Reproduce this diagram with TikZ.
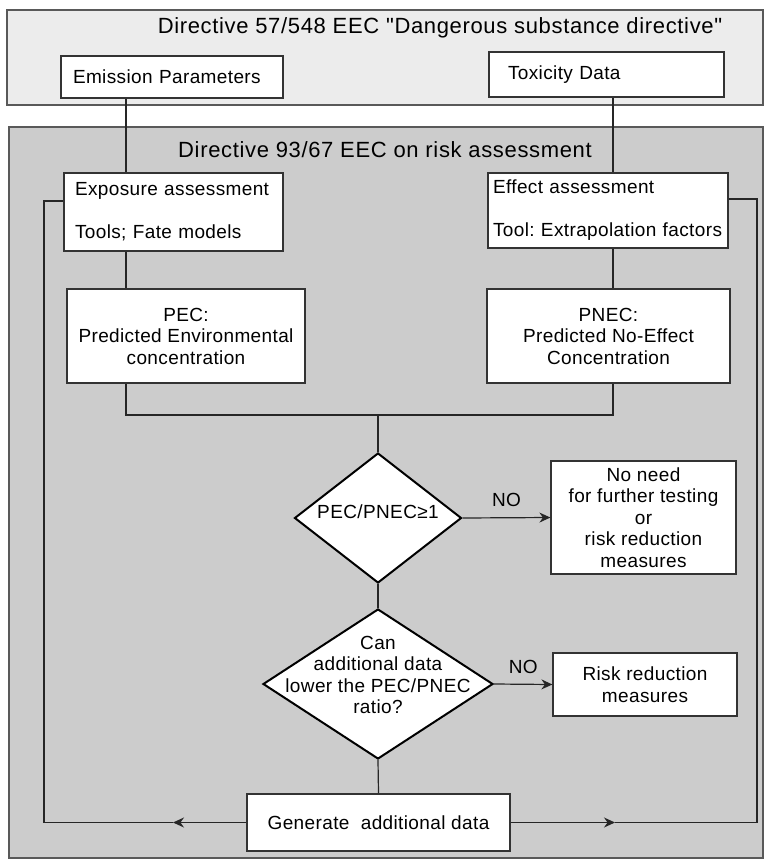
\documentclass[tikz,border=0pt]{standalone}
\usepackage{fontspec}
\setmainfont{Liberation Sans}[Ligatures=TeXOff, LetterSpace=2]
\usetikzlibrary{arrows.meta, positioning, shapes.geometric}
\definecolor{bandGray}{HTML}{ECECEC}
\definecolor{panelGray}{HTML}{CCCCCC}
\frenchspacing

\begin{document}
\begin{tikzpicture}[x=1pt, y=-1pt,
    box/.style={rectangle, draw=black!80, fill=white, line width=1.2pt, inner sep=0pt,
                font=\fontsize{19}{21.5}\selectfont, align=center},
    decision/.style={diamond, draw=black, fill=white, line width=2pt, inner sep=0pt},
    panel/.style={rectangle, draw=black!65, line width=1.2pt, inner sep=0pt},
    lbl/.style={font=\fontsize{19}{21.5}\selectfont, align=center, inner sep=0pt},
    heading/.style={font=\fontsize{22}{24}\selectfont\addfontfeatures{LetterSpace=3}, inner sep=0pt},
    link/.style={draw=black!85, line width=1.2pt},
    arr/.style={link, -{Stealth[length=11pt, width=10pt]}},
  ]
    \useasboundingbox (0,0) rectangle (766,860);

    % directive panels
    \node[panel, fill=bandGray, minimum width=756pt, minimum height=95pt] (dir57) at (385,57.5) {};
    \node[panel, fill=panelGray, minimum width=754pt, minimum height=731pt] (dir93) at (386,492.5) {};
    \node[heading] (dir57title) at (440,28)
      {Directive 57/548 EEC "Dangerous substance directive"};
    \node[heading] (dir93title) at (385,150)
      {Directive 93/67 EEC on risk assessment};

    % input and assessment boxes
    \node[box, minimum width=222pt, minimum height=42pt, text width=198pt, align=left] (emis) at (172,77)
      {Emission Parameters};
    \node[box, minimum width=235pt, minimum height=45pt, text width=197pt, align=left] (tox) at (606.5,74.5)
      {Toxicity Data};
    \node[box, minimum width=219pt, minimum height=78pt, text width=197pt, align=left] (expo) at (173.5,212)
      {Exposure assessment\\[21.5pt]Tools; Fate models};
    \node[box, minimum width=240pt, minimum height=75pt, text width=230pt, align=left] (effe) at (608,210.5)
      {Effect assessment\\[21.5pt]Tool: Extrapolation factors};
    \node[box, minimum width=238pt, minimum height=94pt] (pec) at (186,336)
      {PEC:\\Predicted Environmental\\concentration};
    \node[box, minimum width=243pt, minimum height=94pt] (pnec) at (608.5,336)
      {PNEC:\\Predicted No-Effect\\Concentration};

    % decisions
    \node[decision, minimum width=167pt, minimum height=130pt] (dec1) at (378,518) {};
    \node[lbl] (dec1txt) at (378,512) {PEC/PNEC≥1};
    \node[decision, minimum width=230pt, minimum height=150pt] (dec2) at (378,684) {};
    \node[lbl] (dec2txt) at (378,675) {Can\\additional data\\lower the PEC/PNEC\\ratio?};

    \node[box, minimum width=185pt, minimum height=113pt] (nn) at (643.5,517.5)
      {No need\\for further testing\\or\\risk reduction\\measures};
    \node[box, minimum width=184pt, minimum height=63pt] (rr) at (645,684.5)
      {Risk reduction\\measures};
    \node[box, minimum width=263pt, minimum height=57pt] (gen) at (378.5,822.5)
      {Generate~ additional data};

    % connectors
    \coordinate (lcol) at (126,0);
    \coordinate (rcol) at (613,0);
    \coordinate (join) at (378,415);
    \coordinate (fbl) at (44,201);
    \coordinate (fbr) at (757,199);
    \coordinate (lx) at (173,0);
    \coordinate (rx) at (615,0);

    \draw[link] (emis.south -| lcol) -- (expo.north -| lcol);
    \draw[link] (expo.south -| lcol) -- (pec.north -| lcol);
    \draw[link] (tox.south -| rcol) -- (effe.north -| rcol);
    \draw[link] (effe.south -| rcol) -- (pnec.north -| rcol);
    \draw[link] (pec.south -| lcol) |- (join) -| (pnec.south -| rcol);
    \draw[link] (join) -- (dec1.north);
    \draw[link] (dec1.south) -- (dec2.north);
    \draw[link] (dec2.south) -- (gen.north);

    \draw[arr] (dec1.east) -- (nn.west) node[lbl, midway, above=10pt] (no1) {NO};
    \draw[arr] (dec2.east) -- (rr.west) node[lbl, midway, above=10pt] (no2) {NO};

    % feedback loops
    \draw[arr] (gen.west) -- (gen.west -| lx);
    \draw[link] (gen.west -| lx) -- (gen.west -| fbl) -- (fbl) -- (fbl -| expo.west);
    \draw[arr] (gen.east) -- (gen.east -| rx);
    \draw[link] (gen.east -| rx) -- (gen.east -| fbr) -- (fbr) -- (fbr -| effe.east);
  \end{tikzpicture}
\end{document}
